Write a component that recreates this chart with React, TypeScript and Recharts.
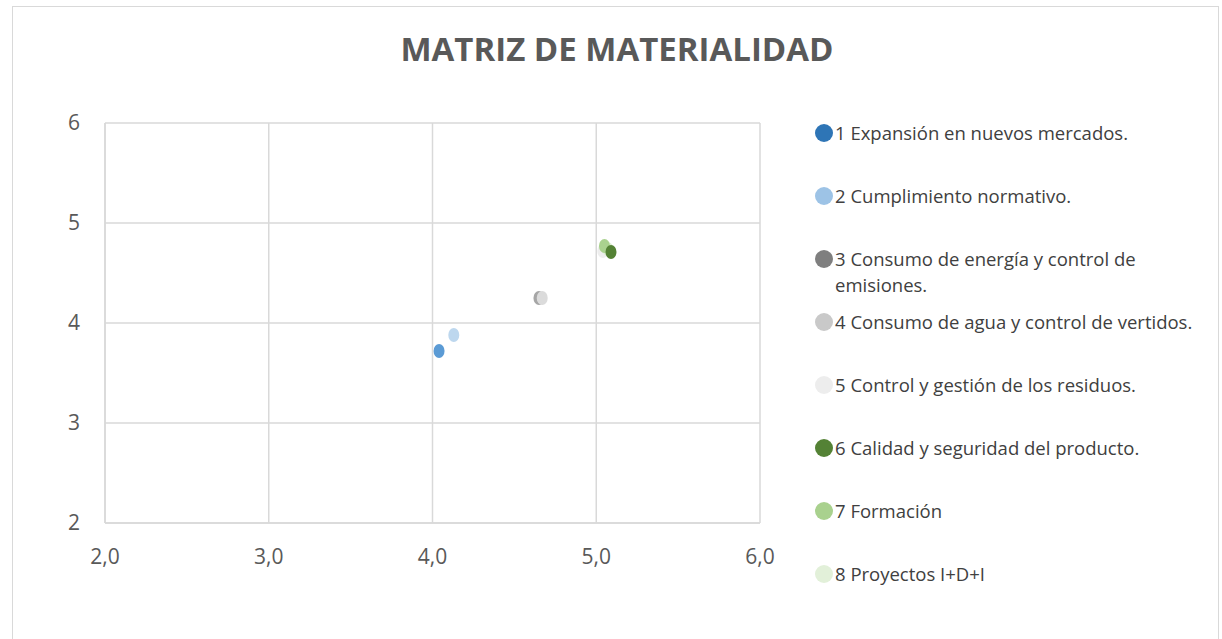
import { ScatterChart, Scatter, XAxis, YAxis, CartesianGrid } from "recharts";

// Materiality matrix topics
const topics = [
  "1 Expansión en nuevos mercados.",
  "2 Cumplimiento normativo.",
  "3 Consumo de energía y control de emisiones.",
  "4 Consumo de agua y control de vertidos.",
  "5 Control y gestión de los residuos.",
  "6 Calidad y seguridad del producto.",
  "7 Formación",
  "8 Proyectos I+D+I",
];
const xValues = [4.04, 4.13, 4.65, 4.67, 5.04, 5.09, 5.05, 5.07];
const yValues = [3.72, 3.88, 4.25, 4.25, 4.72, 4.71, 4.77, 4.74];
const colors = ["#2e75b6", "#9dc3e6", "#7f7f7f", "#c9c9c9", "#ededed", "#548235", "#a9d18e", "#e2f0d9"];
const plotColors = ["#5b9bd5", "#bdd7ee", "#a6a6a6", "#dbdbdb", "#eeeeee", "#548235", "#a9d18e", "#dcedd2"];
const axisTicks = [2, 3, 4, 5, 6];
// drawing order (dark green sits on top)
const drawOrder = [0, 1, 2, 3, 4, 7, 6, 5];

const font = "'Open Sans', sans-serif";

const Dot = (props: any) => {
  const { cx, cy, fill } = props;
  if (cx == null || cy == null) return null;
  return <ellipse cx={cx} cy={cy} rx={5.5} ry={7} fill={fill} />;
};

const LegendBox = () => (
  <div
    style={{
      position: "absolute",
      left: 815,
      top: 120,
      fontFamily: font,
      fontSize: 18.5,
      color: "#404040",
    }}
  >
    {topics.map((t, i) => (
      <div key={t} style={{ display: "flex", alignItems: "flex-start", height: 63 }}>
        <span
          style={{
            display: "inline-block",
            width: 18,
            height: 18,
            borderRadius: "50%",
            background: colors[i],
            marginTop: 4,
            marginRight: 2,
            flexShrink: 0,
          }}
        />
        <span style={{ width: 385, lineHeight: "26px" }}>{t}</span>
      </div>
    ))}
  </div>
);

export default function App() {
  return (
    <div style={{ position: "absolute", left: 0, top: 0, width: 1222, height: 639, background: "#fff" }}>
      <div
        style={{
          position: "absolute",
          left: 12,
          top: 6,
          width: 1207,
          height: 640,
          border: "1.5px solid #d9d9d9",
          boxSizing: "border-box",
        }}
      />
      <div
        style={{
          position: "absolute",
          left: 0,
          width: 1234,
          top: 26,
          textAlign: "center",
          fontFamily: font,
          fontWeight: 700,
          fontSize: 33,
          color: "#595959",
        }}
      >
        MATRIZ DE MATERIALIDAD
      </div>
      <ScatterChart
        width={1222}
        height={639}
        margin={{ top: 123, right: 462, bottom: 76, left: 0 }}
        style={{ position: "absolute", left: 0, top: 0 }}
      >
        <CartesianGrid stroke="#d9d9d9" strokeWidth={1.5} />
        <XAxis
          type="number"
          dataKey="x"
          domain={[2, 6]}
          ticks={axisTicks}
          tickFormatter={(v: number) => v.toFixed(1).replace(".", ",")}
          stroke="#d9d9d9"
          strokeWidth={1.5}
          tickLine={false}
          tick={{ fill: "#595959", fontSize: 21, fontFamily: font }}
          tickMargin={20}
          height={40}
        />
        <YAxis
          type="number"
          dataKey="y"
          domain={[2, 6]}
          ticks={axisTicks}
          stroke="#d9d9d9"
          strokeWidth={1.5}
          tickLine={false}
          tick={{ fill: "#595959", fontSize: 21, fontFamily: font }}
          tickMargin={19}
          width={105}
        />
        {drawOrder.map((i) => (
          <Scatter
            key={topics[i]}
            name={topics[i]}
            data={[{ x: xValues[i], y: yValues[i] }]}
            fill={plotColors[i]}
            shape={<Dot />}
            isAnimationActive={false}
          />
        ))}
      </ScatterChart>
      <LegendBox />
    </div>
  );
}
